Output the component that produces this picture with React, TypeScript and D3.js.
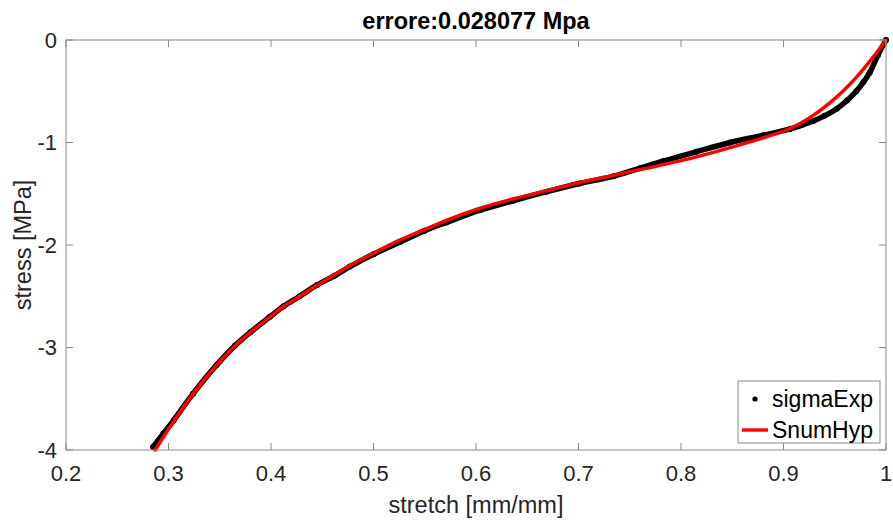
import React from "react";
import * as d3 from "d3";

const expStretch = [0.285, 0.295, 0.305, 0.324, 0.347, 0.365, 0.380, 0.399, 0.412, 0.428, 0.445, 0.462, 0.477, 0.500, 0.526, 0.550, 0.571, 0.604, 0.636, 0.669, 0.701, 0.734, 0.760, 0.783, 0.815, 0.848, 0.880, 0.906, 0.918, 0.929, 0.940, 0.952, 0.962, 0.971, 0.978, 0.984, 0.992, 1.0];
const expStress = [-3.97, -3.84, -3.71, -3.45, -3.17, -2.98, -2.85, -2.70, -2.60, -2.50, -2.39, -2.30, -2.21, -2.09, -1.97, -1.86, -1.78, -1.66, -1.57, -1.48, -1.40, -1.33, -1.25, -1.18, -1.09, -1.00, -0.93, -0.87, -0.83, -0.79, -0.74, -0.67, -0.59, -0.50, -0.41, -0.32, -0.15, 0];

const hypStretch = [0.287, 0.305, 0.324, 0.347, 0.365, 0.380, 0.399, 0.412, 0.428, 0.445, 0.462, 0.477, 0.500, 0.526, 0.550, 0.571, 0.604, 0.636, 0.669, 0.701, 0.734, 0.750, 0.783, 0.815, 0.848, 0.880, 0.906, 0.929, 0.952, 0.971, 0.988, 1.0];
const hypStress = [-4.0, -3.72, -3.45, -3.17, -2.98, -2.85, -2.70, -2.60, -2.50, -2.39, -2.29, -2.20, -2.08, -1.95, -1.85, -1.76, -1.64, -1.55, -1.47, -1.39, -1.32, -1.285, -1.215, -1.14, -1.05, -0.955, -0.865, -0.735, -0.555, -0.365, -0.16, 0];

const xTicks = [0.2, 0.3, 0.4, 0.5, 0.6, 0.7, 0.8, 0.9, 1];
const yTicks = [0, -1, -2, -3, -4];
const titleText = "errore:0.028077 Mpa";
const xLabel = "stretch [mm/mm]";
const yLabel = "stress [MPa]";
const legendLabels = ["sigmaExp", "SnumHyp"];

const W = 893;
const H = 522;
const FONT = "'Liberation Sans', Arial, Helvetica, sans-serif";
const AX = "#8a8a8a";
const TXT = "#262626";

export default function App() {
  const x = d3.scaleLinear().domain([0.2, 1]).range([66, 886]);
  const y = d3.scaleLinear().domain([-4, 0]).range([450, 40]);
  const [x0, x1] = x.range();
  const [y0, y1] = y.range();

  const expPts: [number, number][] = expStretch.map((s, i) => [s, expStress[i]]);
  const hypPts: [number, number][] = hypStretch.map((s, i) => [s, hypStress[i]]);
  const line = d3
    .line<[number, number]>()
    .x((d) => x(d[0]))
    .y((d) => y(d[1]))
    .curve(d3.curveCatmullRom.alpha(0.5));

  const tl = 7;
  const legX = 738, legY = 381, legW = 142, legH = 62;

  return (
    <svg width={W} height={H} style={{ position: "absolute", left: 0, top: 0, background: "#fff" }} fontFamily={FONT}>
      <rect x={0} y={0} width={W} height={H} fill="#fff" />
      {/* data */}
      <path d={line(expPts) || ""} fill="none" stroke="#000" strokeWidth={5.5} strokeLinecap="round" strokeLinejoin="round" />
      {expPts.map((d, i) => (
        <circle key={i} cx={x(d[0])} cy={y(d[1])} r={3} fill="#000" />
      ))}
      <path d={line(hypPts) || ""} fill="none" stroke="#ff0000" strokeWidth={3.4} strokeLinecap="round" strokeLinejoin="round" />

      {/* box */}
      <rect x={x0} y={y1} width={x1 - x0} height={y0 - y1} fill="none" stroke={AX} strokeWidth={1} />
      {xTicks.map((t) => (
        <g key={"xt" + t}>
          <line x1={x(t)} x2={x(t)} y1={y0} y2={y0 - tl} stroke={AX} />
          <line x1={x(t)} x2={x(t)} y1={y1} y2={y1 + tl} stroke={AX} />
          <text x={x(t)} y={481} textAnchor="middle" fontSize={22} fill={TXT}>
            {String(t)}
          </text>
        </g>
      ))}
      {yTicks.map((t) => (
        <g key={"yt" + t}>
          <line x1={x0} x2={x0 + tl} y1={y(t)} y2={y(t)} stroke={AX} />
          <line x1={x1} x2={x1 - tl} y1={y(t)} y2={y(t)} stroke={AX} />
          <text x={57} y={y(t)} dy="0.36em" textAnchor="end" fontSize={22} fill={TXT}>
            {String(t)}
          </text>
        </g>
      ))}

      {/* labels */}
      <text x={(x0 + x1) / 2} y={29} textAnchor="middle" fontSize={23.5} fontWeight="bold" fill="#000">
        {titleText}
      </text>
      <text x={(x0 + x1) / 2} y={513} textAnchor="middle" fontSize={23.5} fill={TXT}>
        {xLabel}
      </text>
      <text transform={`translate(31,${(y0 + y1) / 2}) rotate(-90)`} textAnchor="middle" fontSize={23.5} fill={TXT}>
        {yLabel}
      </text>

      {/* legend */}
      <rect x={legX} y={legY} width={legW} height={legH} fill="#fff" stroke={AX} strokeWidth={1} />
      <circle cx={755} cy={399} r={2.6} fill="#000" />
      <text x={772} y={399} dy="0.36em" fontSize={23} fill="#000">
        {legendLabels[0]}
      </text>
      <line x1={742} x2={768} y1={430} y2={430} stroke="#ff0000" strokeWidth={3.4} />
      <text x={772} y={430} dy="0.36em" fontSize={23} fill="#000">
        {legendLabels[1]}
      </text>
    </svg>
  );
}
